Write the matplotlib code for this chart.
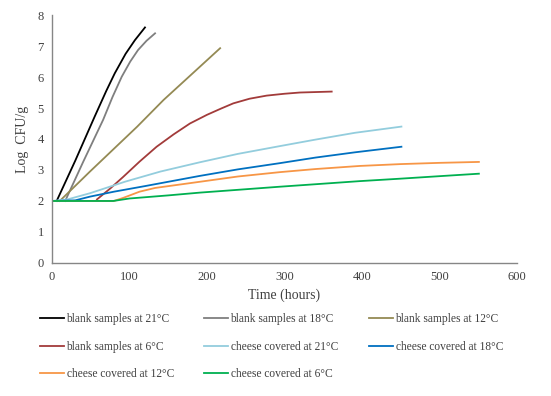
import matplotlib
matplotlib.use('Agg')
import matplotlib.pyplot as plt

plt.rcParams['font.family'] = ['Liberation Serif', 'DejaVu Serif']

# Blank samples (hours, log CFU/g)
blank21_t = [6, 30, 55, 70, 81, 95, 107, 120]
blank21_v = [2.0, 3.3, 4.72, 5.55, 6.12, 6.75, 7.19, 7.6]
blank18_t = [17, 40, 66, 78, 90, 101, 111, 122, 133]
blank18_v = [2.0, 3.25, 4.62, 5.35, 6.01, 6.5, 6.87, 7.17, 7.41]
blank12_t = [10, 49, 110, 144, 217]
blank12_v = [2.0, 2.95, 4.4, 5.26, 6.93]
blank6_t = [58, 75, 92, 113, 135, 157, 178, 200, 218, 234, 255, 277, 300, 320, 361]
blank6_v = [2.05, 2.4, 2.78, 3.27, 3.75, 4.15, 4.5, 4.78, 4.98, 5.15, 5.3, 5.4, 5.46, 5.5, 5.53]

# Cheese covered samples
cheese21_t = [0, 20, 49, 94, 140, 191, 240, 294, 340, 391, 451]
cheese21_v = [2.0, 2.05, 2.25, 2.62, 2.95, 3.25, 3.52, 3.77, 3.98, 4.2, 4.4]
cheese18_t = [0, 30, 49, 80, 120, 191, 240, 294, 340, 391, 451]
cheese18_v = [2.0, 2.02, 2.14, 2.3, 2.48, 2.81, 3.02, 3.22, 3.4, 3.57, 3.75]
cheese12_t = [0, 80, 92, 113, 133, 191, 240, 294, 340, 397, 450, 500, 551]
cheese12_v = [2.0, 2.0, 2.1, 2.3, 2.42, 2.62, 2.79, 2.93, 3.03, 3.13, 3.19, 3.23, 3.26]
cheese6_t = [0, 79, 100, 150, 191, 240, 294, 340, 397, 450, 500, 551]
cheese6_v = [2.0, 2.0, 2.08, 2.18, 2.27, 2.36, 2.46, 2.54, 2.64, 2.72, 2.8, 2.88]

series = [
    (blank21_t, blank21_v, 'blank samples at 21°C', '#000000'),
    (blank18_t, blank18_v, 'blank samples at 18°C', '#7f7f7f'),
    (blank12_t, blank12_v, 'blank samples at 12°C', '#948a54'),
    (blank6_t, blank6_v, 'blank samples at 6°C', '#a23b3a'),
    (cheese21_t, cheese21_v, 'cheese covered at 21°C', '#93cddd'),
    (cheese18_t, cheese18_v, 'cheese covered at 18°C', '#0070c0'),
    (cheese12_t, cheese12_v, 'cheese covered at 12°C', '#f79646'),
    (cheese6_t, cheese6_v, 'cheese covered at 6°C', '#00b050'),
]

fig = plt.figure(figsize=(5.51, 3.96), dpi=100)
ax = fig.add_axes([0.0944, 0.336, 0.8436, 0.626])

handles = []
for t, v, label, color in series:
    h, = ax.plot(t, v, color=color, lw=1.3, label=label)
    handles.append(h)

ax.set_xlim(0, 600)
ax.set_ylim(0, 8)
ax.set_xticks(range(0, 601, 100))
ax.set_yticks(range(0, 9))
ax.tick_params(length=0, labelsize=9, colors='#404040', pad=6)
for s in ['top', 'right']:
    ax.spines[s].set_visible(False)
for s in ['left', 'bottom']:
    ax.spines[s].set_color('#868686')
    ax.spines[s].set_linewidth(1.0)
ax.set_xlabel('Time (hours)', fontsize=10, color='#404040', labelpad=4)
ax.set_ylabel('Log  CFU/g', fontsize=10, color='#404040', labelpad=6)

# legend: three columns placed by hand, rows read left to right
columns = [[0, 3, 6], [1, 4, 7], [2, 5]]
col_x = [40 / 551, 204 / 551, 369 / 551]
for idx, x0 in zip(columns, col_x):
    leg = fig.legend([handles[i] for i in idx], [series[i][2] for i in idx],
                     loc='upper left', bbox_to_anchor=(x0, 0.209),
                     frameon=False, fontsize=8.3, handlelength=2.1,
                     handletextpad=0.2, labelspacing=1.35, borderpad=0,
                     borderaxespad=0, labelcolor='#404040')

fig.savefig('out.png', dpi=100)
